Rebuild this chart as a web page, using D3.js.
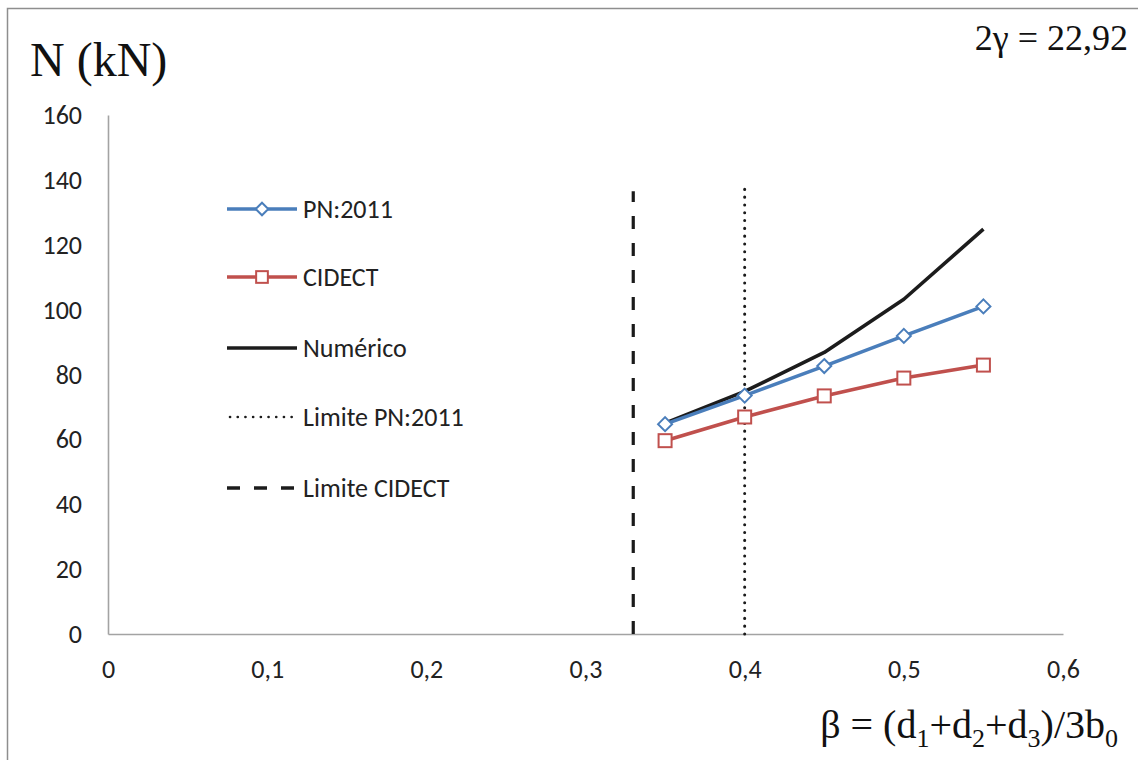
<!DOCTYPE html>
<html>
<head>
<meta charset="utf-8">
<script src="https://cdn.jsdelivr.net/npm/d3@7"></script>
<style>
  html, body { margin: 0; padding: 0; background: #fff; }
  svg { display: block; }
</style>
</head>
<body>
<svg id="chart" width="1138" height="760"></svg>
<script>
// β values where the three resistance curves are evaluated
const beta = [0.35, 0.40, 0.45, 0.50, 0.55];
// Resistance N (kN) per method
const pn2011   = [64.7, 73.5, 82.6, 91.9, 101.0];
const cidect   = [59.6, 66.9, 73.4, 78.9, 82.9];
const numerico = [65.0, 74.8, 86.8, 103.2, 124.8];
// Validity limits of each code (β) and the height their lines reach (kN)
const limitNames = ["Limite PN:2011", "Limite CIDECT"];
const limitBeta  = [0.40, 0.33];
const limitTop   = [138.5, 136.5];
// Axis ticks
const xTicks = [0, 0.1, 0.2, 0.3, 0.4, 0.5, 0.6];
const yTicks = [0, 20, 40, 60, 80, 100, 120, 140, 160];
const legendNames = ["PN:2011", "CIDECT", "Numérico", "Limite PN:2011", "Limite CIDECT"];

const svg = d3.select("#chart");
const W = 1138, H = 760;

// outer frame
svg.append("rect")
  .attr("x", 7.5).attr("y", 8.5)
  .attr("width", W).attr("height", H)
  .attr("fill", "#fff").attr("stroke", "#8e8e8e").attr("stroke-width", 1.5);

const x = d3.scaleLinear().domain([0, 0.6]).range([108, 1063]);
const y = d3.scaleLinear().domain([0, 160]).range([634, 115]);

const sansFont = "Carlito, Lato, 'Open Sans', sans-serif";
const serifFont = "'Liberation Serif', 'Times New Roman', serif";

// axes
const xAxis = d3.axisBottom(x).tickValues(xTicks).tickSize(0)
  .tickFormat(d => d3.format(".1f")(d).replace(".", ",").replace(/^0,0$/, "0"));
const yAxis = d3.axisLeft(y).tickValues(yTicks).tickSize(0).tickFormat(d3.format("d"));

const gx = svg.append("g").attr("transform", `translate(0,${y(0)})`).call(xAxis);
gx.select(".domain").attr("stroke", "#a3a3a3").attr("stroke-width", 1.6);
gx.selectAll("text").attr("font-family", sansFont).attr("font-size", 26)
  .attr("fill", "#222").attr("dy", "0").attr("y", 44);

const gy = svg.append("g").attr("transform", `translate(${x(0)},0)`).call(yAxis);
gy.select(".domain").attr("stroke", "#a3a3a3").attr("stroke-width", 1.6);
gy.selectAll("text").attr("font-family", sansFont).attr("font-size", 26)
  .attr("fill", "#222").attr("x", -26).attr("dy", "0.33em");

// limit lines
const limitStyles = [
  { dash: "0.1 7.7", width: 3, cap: "round" },
  { dash: "13 14", width: 3.2, cap: "butt" }
];
limitBeta.forEach((b, i) => {
  svg.append("line")
    .attr("x1", x(b)).attr("x2", x(b))
    .attr("y1", y(0)).attr("y2", y(limitTop[i]))
    .attr("stroke", "#1a1a1a")
    .attr("stroke-width", limitStyles[i].width)
    .attr("stroke-linecap", limitStyles[i].cap)
    .attr("stroke-dasharray", limitStyles[i].dash);
});

// series
const line = d3.line().x(d => x(d[0])).y(d => y(d[1]));
const series = [
  { name: "PN:2011", values: pn2011, color: "#4a7ebb", marker: "diamond" },
  { name: "CIDECT", values: cidect, color: "#c0504d", marker: "square" },
  { name: "Numérico", values: numerico, color: "#1c1c1c", marker: null }
];
// black (Numérico) goes underneath the two code curves
[series[2], series[0], series[1]].forEach(s => {
  const pts = beta.map((b, i) => [b, s.values[i]]);
  svg.append("path").datum(pts)
    .attr("d", line)
    .attr("fill", "none")
    .attr("stroke", s.color)
    .attr("stroke-width", 3.6)
    .attr("stroke-linejoin", "round");
});

function drawMarker(g, type, cx, cy, color, scale) {
  if (type === "diamond") {
    const r = 7 * scale;
    g.append("path")
      .attr("d", `M${cx},${cy - r}L${cx + r},${cy}L${cx},${cy + r}L${cx - r},${cy}Z`)
      .attr("fill", "#fff").attr("stroke", color).attr("stroke-width", 2);
  } else if (type === "square") {
    const s = 13 * scale;
    g.append("rect")
      .attr("x", cx - s / 2).attr("y", cy - s / 2)
      .attr("width", s).attr("height", s)
      .attr("fill", "#fff").attr("stroke", color).attr("stroke-width", 2);
  }
}

const markersG = svg.append("g");
series.forEach(s => {
  if (!s.marker) return;
  beta.forEach((b, i) => drawMarker(markersG, s.marker, x(b), y(s.values[i]), s.color, 1));
});

// legend
const legendY = [209, 277, 348, 417, 488];
const legendStyles = [
  { color: "#4a7ebb", width: 3.6, dash: null, marker: "diamond" },
  { color: "#c0504d", width: 3.6, dash: null, marker: "square" },
  { color: "#1c1c1c", width: 3.6, dash: null, marker: null },
  { color: "#1c1c1c", width: 2.6, dash: "0.1 7.6", marker: null, cap: "round" },
  { color: "#1c1c1c", width: 3.6, dash: "13 14", marker: null }
];
const lg = svg.append("g");
legendNames.forEach((name, i) => {
  const st = legendStyles[i];
  const ln = lg.append("line")
    .attr("x1", i === 3 ? 230 : 227).attr("x2", 297)
    .attr("y1", legendY[i]).attr("y2", legendY[i])
    .attr("stroke", st.color).attr("stroke-width", st.width);
  if (st.dash) ln.attr("stroke-dasharray", st.dash);
  if (st.cap) ln.attr("stroke-linecap", st.cap);
  if (st.marker) drawMarker(lg, st.marker, 262, legendY[i], st.color, 0.9);
  lg.append("text")
    .attr("x", 303).attr("y", legendY[i]).attr("dy", "0.33em")
    .attr("font-family", sansFont).attr("font-size", 26)
    .attr("fill", "#222").text(name);
});

// titles
svg.append("text")
  .attr("x", 30).attr("y", 76)
  .attr("font-family", serifFont).attr("font-size", 48)
  .attr("fill", "#111").text("N (kN)");

svg.append("text")
  .attr("x", 1128).attr("y", 50).attr("text-anchor", "end")
  .attr("font-family", serifFont).attr("font-size", 36)
  .attr("fill", "#111").text("2γ = 22,92");

// x axis title with subscripts
const bt = svg.append("text")
  .attr("x", 1118).attr("y", 738).attr("text-anchor", "end")
  .attr("font-family", serifFont).attr("font-size", 40)
  .attr("fill", "#111");
const parts = [
  ["β = (d", false], ["1", true], ["+d", false], ["2", true],
  ["+d", false], ["3", true], [")/3b", false], ["0", true]
];
parts.forEach(([t, sub], i) => {
  const ts = bt.append("tspan").text(t);
  if (sub) ts.attr("font-size", 26).attr("dy", 9);
  else if (i > 0) ts.attr("dy", -9);
});
</script>
</body>
</html>
